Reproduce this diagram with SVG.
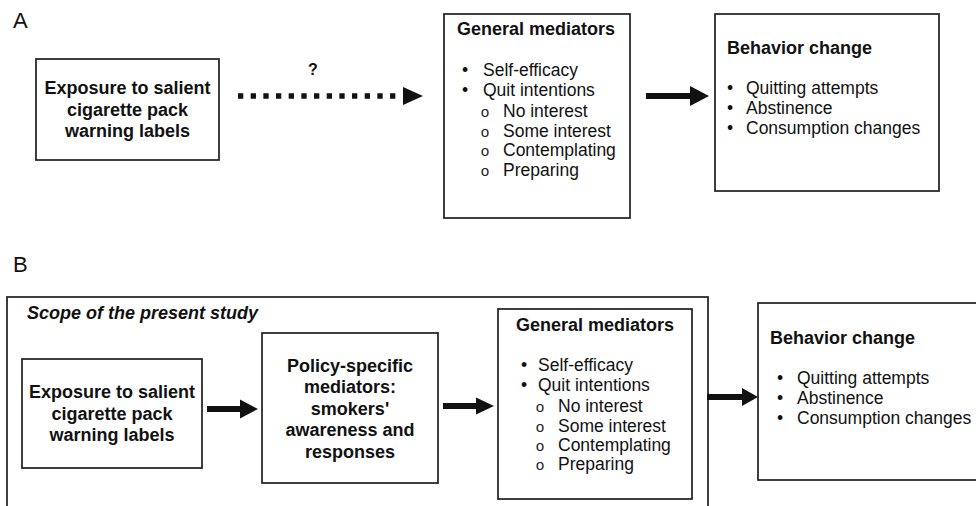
<svg xmlns="http://www.w3.org/2000/svg" width="976" height="506" viewBox="0 0 976 506">
<style>
.box{fill:#fff;stroke:#1e1e1e;stroke-width:1.7}
.t{font-family:"Liberation Sans",Arial,sans-serif;fill:#111}
.b{font-weight:bold;font-size:18px}
.r{font-size:17.5px}
.c{text-anchor:middle}
.o{font-family:"Liberation Mono","Courier New",monospace;font-size:15px;fill:#222}
.lbl{font-family:"Liberation Sans",Arial,sans-serif;font-size:22px;fill:#111}
.shaft{stroke:#111;stroke-width:6;fill:none}
.dots{stroke:#111;stroke-width:5.5;fill:none;stroke-dasharray:5.3 7.37}
.head{fill:#111}
</style>
<rect width="976" height="506" fill="#fff"/>
<text class="lbl" x="13" y="28">A</text>
<text class="lbl" x="13" y="272">B</text>

<g id="scope">
<rect x="7" y="297" width="701" height="230" style="fill:none;stroke:#1e1e1e;stroke-width:1.7"/>
<text class="t b" x="27" y="319" font-style="italic">Scope of the present study</text>
</g>

<g id="a-exposure">
<rect class="box" x="36" y="59" width="183" height="101"/>
<text class="t b c" x="127.5" y="94">Exposure to salient</text>
<text class="t b c" x="127.5" y="116">cigarette pack</text>
<text class="t b c" x="127.5" y="137">warning labels</text>
</g>

<g id="a-general">
<rect class="box" x="444" y="14" width="186" height="204"/>
<text class="t b" x="457" y="35">General mediators</text>
<text class="t r" x="462" y="76">•</text><text class="t r" x="483" y="76">Self-efficacy</text>
<text class="t r" x="462" y="96">•</text><text class="t r" x="483" y="96">Quit intentions</text>
<text class="o" x="480.5" y="116.5">o</text><text class="t r" x="503" y="116.5">No interest</text>
<text class="o" x="480.5" y="136.5">o</text><text class="t r" x="503" y="136.5">Some interest</text>
<text class="o" x="480.5" y="156">o</text><text class="t r" x="503" y="156">Contemplating</text>
<text class="o" x="480.5" y="176">o</text><text class="t r" x="503" y="176">Preparing</text>
</g>

<g id="a-behavior">
<rect class="box" x="715" y="14" width="224" height="177"/>
<text class="t b" x="727" y="54">Behavior change</text>
<text class="t r" x="727" y="94">•</text><text class="t r" x="746" y="94">Quitting attempts</text>
<text class="t r" x="727" y="114">•</text><text class="t r" x="746" y="114">Abstinence</text>
<text class="t r" x="727" y="134">•</text><text class="t r" x="746" y="134">Consumption changes</text>
</g>

<g id="b-exposure">
<rect class="box" x="22" y="359" width="180" height="109"/>
<text class="t b c" x="112" y="398">Exposure to salient</text>
<text class="t b c" x="112" y="420">cigarette pack</text>
<text class="t b c" x="112" y="441">warning labels</text>
</g>

<g id="b-policy">
<rect class="box" x="262" y="333" width="176" height="150"/>
<text class="t b c" x="350" y="372">Policy-specific</text>
<text class="t b c" x="350" y="393">mediators:</text>
<text class="t b c" x="350" y="415">smokers'</text>
<text class="t b c" x="350" y="436">awareness and</text>
<text class="t b c" x="350" y="458">responses</text>
</g>

<g id="b-general">
<rect class="box" x="498" y="309" width="194" height="190"/>
<text class="t b c" x="595" y="331">General mediators</text>
<text class="t r" x="521" y="371">•</text><text class="t r" x="538" y="371">Self-efficacy</text>
<text class="t r" x="521" y="391">•</text><text class="t r" x="538" y="391">Quit intentions</text>
<text class="o" x="535.5" y="412">o</text><text class="t r" x="558" y="412">No interest</text>
<text class="o" x="535.5" y="431.5">o</text><text class="t r" x="558" y="431.5">Some interest</text>
<text class="o" x="535.5" y="450.5">o</text><text class="t r" x="558" y="450.5">Contemplating</text>
<text class="o" x="535.5" y="469.5">o</text><text class="t r" x="558" y="469.5">Preparing</text>
</g>

<g id="b-behavior">
<rect class="box" x="758" y="303" width="230" height="177"/>
<text class="t b" x="770" y="344">Behavior change</text>
<text class="t r" x="777" y="384">•</text><text class="t r" x="797" y="384">Quitting attempts</text>
<text class="t r" x="777" y="404">•</text><text class="t r" x="797" y="404">Abstinence</text>
<text class="t r" x="777" y="424">•</text><text class="t r" x="797" y="424">Consumption changes</text>
</g>

<g id="connectors">
<line class="dots" x1="238" y1="96" x2="398" y2="96"/>
<polygon class="head" points="403,87 423,96 403,105"/>
<text class="t b c" x="313" y="75" style="font-size:16px">?</text>
<line class="shaft" x1="646" y1="96" x2="692" y2="96"/>
<polygon class="head" points="690,86 709,96 690,106"/>
<line class="shaft" x1="207" y1="409" x2="242" y2="409"/>
<polygon class="head" points="240,399.5 258,409 240,418.5"/>
<line class="shaft" x1="443" y1="406" x2="478" y2="406"/>
<polygon class="head" points="476,397.5 494,406 476,414.5"/>
<line class="shaft" x1="707" y1="397" x2="744" y2="397"/>
<polygon class="head" points="742,388 758,397 742,406"/>
</g>
</svg>
